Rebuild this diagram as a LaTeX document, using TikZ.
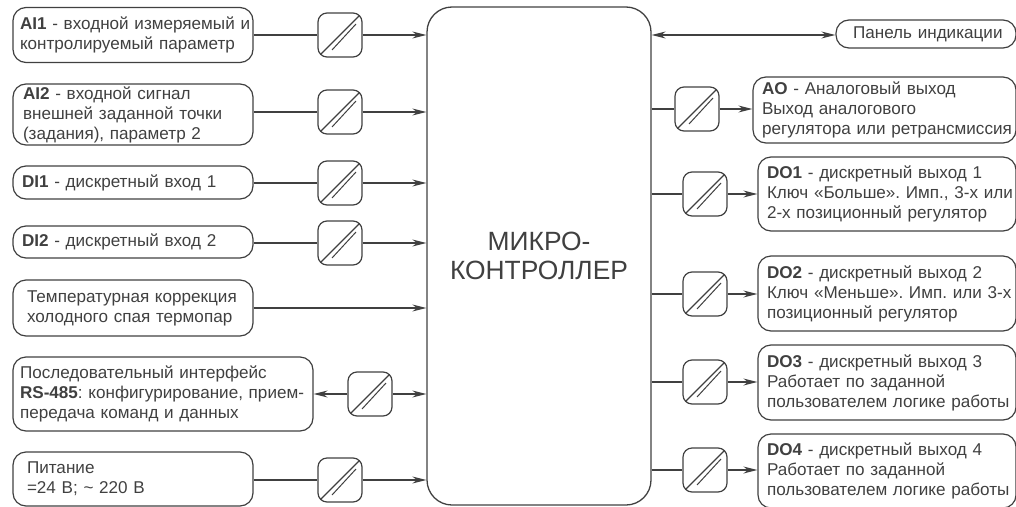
\documentclass[tikz,border=0pt]{standalone}
\usepackage{fontspec}
\setmainfont{Liberation Sans}
\usepackage{xcolor}
\usetikzlibrary{arrows.meta}
\definecolor{inkgray}{HTML}{404040}
\tikzset{
  infobox/.style 2 args={draw=inkgray, line width=1.2pt, rounded corners=13pt, minimum width=#1pt,
    text width=#1pt, inner xsep=0pt, inner ysep=0pt, align=left, text=inkgray,
    execute at begin node={\leftskip=#2pt\relax\frenchspacing},
    font=\fontsize{17.1}{20}\selectfont},
  conv/.style={draw=inkgray, line width=1.2pt, rounded corners=9pt, minimum size=44pt, inner sep=0pt,
    path picture={
      \draw[inkgray, line width=1.1pt] (path picture bounding box.south west) -- (path picture bounding box.north east);
      \draw[inkgray, line width=1pt] ([xshift=14pt,yshift=7pt]path picture bounding box.south west) -- ([xshift=-6pt,yshift=-11pt]path picture bounding box.north east);
    }},
  link/.style={draw=inkgray, line width=1.2pt},
  sig/.style={link, -{Stealth[length=14pt,width=7pt]}},
}
\begin{document}
\begin{tikzpicture}[x=1pt, y=-1pt]
    \useasboundingbox (0,0) rectangle (1016,506);

    % Controller
    \node[draw=inkgray, line width=1.3pt, rounded corners=25pt, minimum width=224pt, minimum height=498pt, inner sep=0pt,
        align=center, text=inkgray, font=\fontsize{26.4}{29}\selectfont] (mcu) at (539,256) {МИКРО-\\КОНТРОЛЛЕР};

    % Inputs
    \node[infobox={240}{7}, minimum height=55pt]  (ai1)  at (133,35)   {\textbf{AI1} - входной измеряемый и\\контролируемый параметр};
    \node[infobox={240}{10}, minimum height=61pt] (ai2)  at (133,114.5) {\textbf{AI2} - входной сигнал\\внешней заданной точки\\(задания), параметр 2};
    \node[infobox={240}{9}, minimum height=33pt]  (di1)  at (133,182.5) {\textbf{DI1} - дискретный вход 1};
    \node[infobox={240}{9}, minimum height=32pt]  (di2)  at (133,242)  {\textbf{DI2} - дискретный вход 2};
    \node[infobox={240}{14}, minimum height=56pt] (temp) at (133,308)  {Температурная коррекция\\холодного спая термопар};
    \node[infobox={300}{7}, minimum height=74pt]  (rs)   at (163,394)  {Последовательный интерфейс\\\textbf{RS-485}: конфигурирование, прием-\\передача команд и данных};
    \node[infobox={240}{14}, minimum height=54pt] (pwr)  at (133,479)  {Питание\\=24 В; \textasciitilde{} 220 В};

    % Input converters
    \node[conv] (c1) at (340,35)  {};
    \node[conv] (c2) at (340,112) {};
    \node[conv] (c3) at (340,183) {};
    \node[conv] (c4) at (340,243) {};
    \node[conv] (c5) at (370,394) {};
    \node[conv] (c6) at (340,480) {};

    % Outputs
    \node[infobox={180}{17}, minimum height=28pt] (pan) at (926,34) {Панель индикации};
    \node[infobox={263}{9}, minimum height=66pt]  (ao)  at (884.5,110) {\textbf{AO} - Аналоговый выход\\Выход аналогового\\регулятора или ретрансмиссия};
    \node[infobox={258}{9}, minimum height=74pt]  (do1) at (887,194)   {\textbf{DO1} - дискретный выход 1\\Ключ «Больше». Имп., 3-х или\\2-х позиционный регулятор};
    \node[infobox={258}{9}, minimum height=75pt]  (do2) at (887,293.5) {\textbf{DO2} - дискретный выход 2\\Ключ «Меньше». Имп. или 3-х\\позиционный регулятор};
    \node[infobox={258}{9}, minimum height=75pt]  (do3) at (887,382.5) {\textbf{DO3} - дискретный выход 3\\Работает по заданной\\пользователем логике работы};
    \node[infobox={258}{9}, minimum height=74pt]  (do4) at (887,471)   {\textbf{DO4} - дискретный выход 4\\Работает по заданной\\пользователем логике работы};

    % Output converters
    \node[conv] (c7)  at (697,109) {};
    \node[conv] (c8)  at (705,194) {};
    \node[conv] (c9)  at (705,294) {};
    \node[conv] (c10) at (705,382) {};
    \node[conv] (c11) at (705,470) {};

    % Input links
    \draw[link] (ai1.east |- c1) -- (c1);
    \draw[sig]  (c1) -- (c1 -| mcu.west);
    \draw[link] (ai2.east |- c2) -- (c2);
    \draw[sig]  (c2) -- (c2 -| mcu.west);
    \draw[link] (di1.east |- c3) -- (c3);
    \draw[sig]  (c3) -- (c3 -| mcu.west);
    \draw[link] (di2.east |- c4) -- (c4);
    \draw[sig]  (c4) -- (c4 -| mcu.west);
    \draw[sig]  (temp.east) -- (temp.east -| mcu.west);
    \draw[sig]  (c5) -- (rs.east |- c5);
    \draw[sig]  (c5) -- (c5 -| mcu.west);
    \draw[link] (pwr.east |- c6) -- (c6);
    \draw[sig]  (c6) -- (c6 -| mcu.west);

    % Output links
    \draw[sig, {Stealth[length=14pt,width=7pt]}-{Stealth[length=14pt,width=7pt]}] (c1 -| mcu.east) -- (c1 -| pan.west);
    \draw[link] (c7 -| mcu.east) -- (c7);
    \draw[sig]  (c7) -- (c7 -| ao.west);
    \draw[link] (c8 -| mcu.east) -- (c8);
    \draw[sig]  (c8) -- (c8 -| do1.west);
    \draw[link] (c9 -| mcu.east) -- (c9);
    \draw[sig]  (c9) -- (c9 -| do2.west);
    \draw[link] (c10 -| mcu.east) -- (c10);
    \draw[sig]  (c10) -- (c10 -| do3.west);
    \draw[link] (c11 -| mcu.east) -- (c11);
    \draw[sig]  (c11) -- (c11 -| do4.west);
\end{tikzpicture}
\end{document}
